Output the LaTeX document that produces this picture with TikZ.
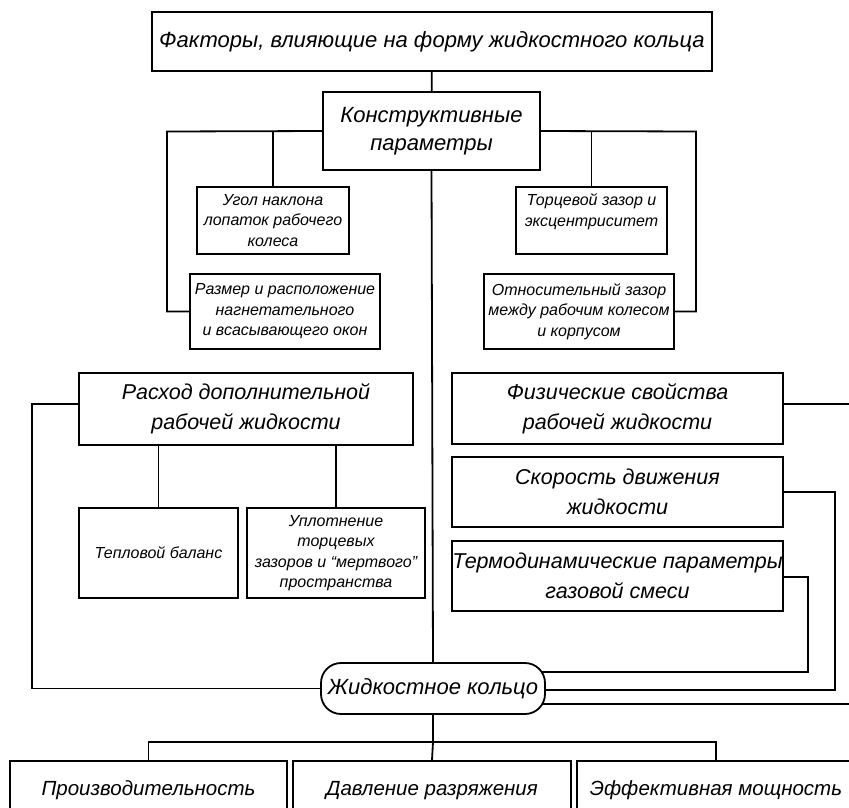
\documentclass[tikz,border=0pt]{standalone}
\usepackage{fontspec}
\setmainfont{Liberation Sans}
\usetikzlibrary{backgrounds}
\begin{document}
\begin{tikzpicture}[x=1pt,y=-1pt,
  box/.style={draw,line width=1.8pt,fill=white,align=center,inner sep=0pt},
  bigf/.style={font=\itshape\fontsize{22}{28}\selectfont},
  botf/.style={font=\itshape\fontsize{20.5}{28}\selectfont,text height=18pt,text depth=4pt},
  medf/.style={font=\itshape\fontsize{21.5}{30}\selectfont},
  smallf/.style={font=\itshape\fontsize{16}{20.5}\selectfont},
  conn/.style={line width=1.8pt}]
\useasboundingbox (0,0) rectangle (849,807);
\clip (0,0) rectangle (849,807);
\node[box,bigf,minimum width=560pt,minimum height=59pt] (title) at (432,41.5) {Факторы, влияющие на форму жидкостного кольца};
\node[box,bigf,minimum width=217pt,minimum height=78pt] (konstr) at (431.5,131) {Конструктивные\\параметры};
\node[box,smallf,minimum width=152pt,minimum height=67pt] (ugol) at (273,220.5) {Угол наклона\\лопаток рабочего\\колеса};
\node[box,smallf,minimum width=190pt,minimum height=75pt] (razmer) at (285,311.5) {Размер и расположение\\нагнетательного\\и всасывающего окон};
\node[box,smallf,minimum width=151pt,minimum height=67pt] (torc) at (591.5,220.5) {Торцевой зазор и\\эксцентриситет\\\mbox{}};
\node[box,smallf,minimum width=190pt,minimum height=75pt] (otnos) at (579,311.5) {Относительный зазор\\между рабочим колесом\\и корпусом};
\node[box,medf,minimum width=334pt,minimum height=72pt] (rashod) at (246,409) {Расход дополнительной\\рабочей жидкости};
\node[box,smallf,minimum width=159pt,minimum height=90pt] (teplo) at (158.5,553) {Тепловой баланс};
\node[box,smallf,minimum width=178pt,minimum height=90pt] (uplot) at (336,553) {Уплотнение\\торцевых\\зазоров и “мертвого”\\пространства};
\node[box,medf,minimum width=331pt,minimum height=71pt] (fiz) at (617.5,408.5) {Физические свойства\\рабочей жидкости};
\node[box,medf,minimum width=331pt,minimum height=70pt] (skor) at (617.5,492) {Скорость движения\\жидкости};
\node[box,medf,minimum width=331pt,minimum height=70pt] (termo) at (617.5,576) {Термодинамические параметры\\газовой смеси};
\node[box,bigf,minimum width=224pt,minimum height=51pt,rounded corners=20pt] (ring) at (433,688.5) {Жидкостное кольцо};
\node[box,botf,minimum width=277pt,minimum height=54pt] (prod) at (148.5,788) {Производительность};
\node[box,botf,minimum width=278pt,minimum height=54pt] (davl) at (432,788) {Давление разряжения};
\node[box,botf,minimum width=278pt,minimum height=54pt] (eff) at (716,788) {Эффективная мощность};
\coordinate (kl) at (167,131.5);
\coordinate (kr) at (696,131.5);
\coordinate (rl) at (32,404);
\coordinate (fr) at (849,404);
\coordinate (sr) at (835,690);
\coordinate (tr) at (808,672);
\coordinate (er) at (849,704);
\coordinate (bus) at (433,742);
\begin{pgfonlayer}{background}
\draw[conn] (title) -- (konstr);
\draw[conn] (konstr.west) -- (kl) |- (razmer.west);
\draw[conn] (ugol.north) -- (ugol.north |- kl);
\draw[conn] (konstr.east) -- (kr) |- (otnos.east);
\draw[conn] (torc.north) -- (torc.north |- kr);
\draw[conn] (konstr.south) -- (ring.north);
\draw[conn] ([yshift=5pt]rashod.west) -- (rl) |- (ring.west);
\draw[conn] (teplo.north) -- (teplo.north |- rashod.south);
\draw[conn] (uplot.north) -- (uplot.north |- rashod.south);
\draw[conn] ([yshift=4.5pt]fiz.east) -- (fr);
\draw[conn] (skor.east) -| (sr) -- (sr -| ring.center);
\draw[conn] ([yshift=-1pt]termo.east) -| (tr) -- (tr -| ring.center);
\draw[conn] (er) -- (er -| ring.center);
\draw[conn] (ring.south) -- (bus);
\draw[conn] (prod.north) |- (eff.north |- bus) -- (eff.north);
\draw[conn] (bus) -- (davl.north);
\end{pgfonlayer}
\end{tikzpicture}
\end{document}
